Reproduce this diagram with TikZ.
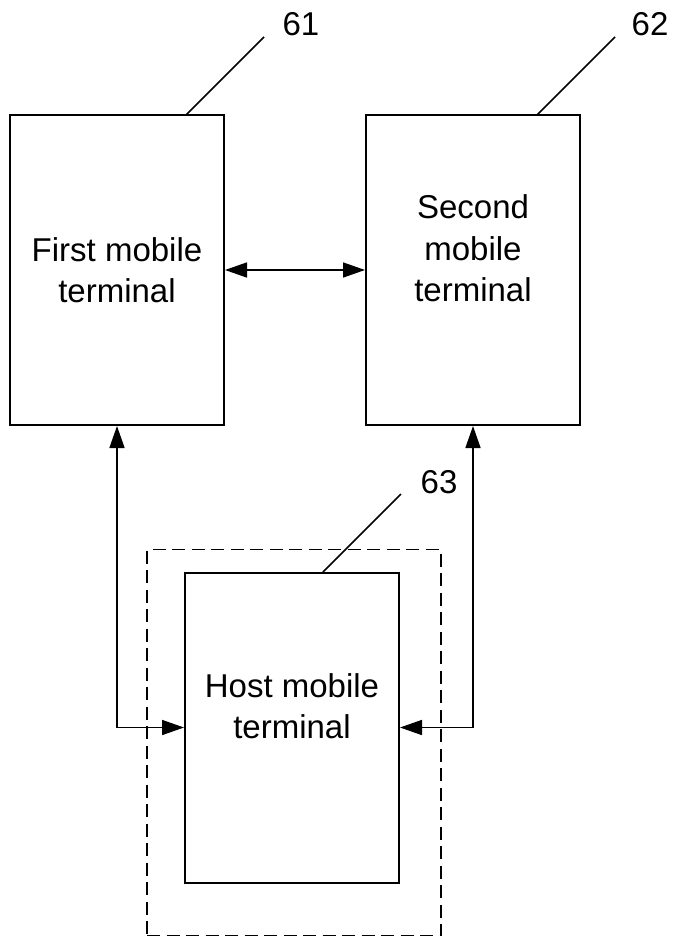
\documentclass[tikz,border=0pt]{standalone}
\usepackage{fontspec}
\setmainfont{Liberation Sans}
\usetikzlibrary{arrows.meta}
\tikzset{
  unit/.style={draw, line width=2pt, minimum width=214pt, minimum height=310pt, inner sep=0pt},
  caption/.style={align=center, inner sep=0pt, font=\fontsize{33}{41.5}\selectfont},
  refnum/.style={inner sep=0pt, font=\fontsize{33}{40}\selectfont},
  leader/.style={line width=1.6pt},
  link/.style={line width=1.6pt, {Triangle[length=22pt,width=15pt]}-{Triangle[length=22pt,width=15pt]}},
  group/.style={draw, line width=1.5pt, dash pattern=on 13pt off 6.5pt, inner sep=0pt}
}
\begin{document}
\begin{tikzpicture}[x=1pt, y=-1pt]
  \useasboundingbox (0,0) rectangle (673,937);

  % dashed enclosure round the host terminal
  \node[group, minimum width=294pt, minimum height=386pt] (grp) at (294,742.5) {};

  % the three terminals
  \node[unit] (first) at (117,270) {};
  \node[unit] (second) at (473,270) {};
  \node[unit, fill=white] (host) at (292,727.5) {};

  \node[caption] (firsttxt) at (117,270) {First mobile\\terminal};
  \node[caption] (secondtxt) at (473,248.5) {Second\\mobile\\terminal};
  \node[caption] (hosttxt) at (292,706) {Host mobile\\terminal};

  % reference numerals with leader lines
  \node[refnum] (n61) at (301,24) {61};
  \node[refnum] (n62) at (650,24) {62};
  \node[refnum] (n63) at (439,482) {63};
  \coordinate (a61) at (186,115);  \coordinate (b61) at (264,37);
  \coordinate (a62) at (537,115);  \coordinate (b62) at (615,37);
  \coordinate (a63) at (323,572);  \coordinate (b63) at (401,494);
  \draw[leader] (a61) -- (b61);
  \draw[leader] (a62) -- (b62);
  \draw[leader] (a63) -- (b63);

  % connections between terminals
  \draw[link] (first.east) -- (second.west);
  \draw[link] (first.south) |- (host.west);
  \draw[link] (second.south) |- (host.east);
\end{tikzpicture}
\end{document}
